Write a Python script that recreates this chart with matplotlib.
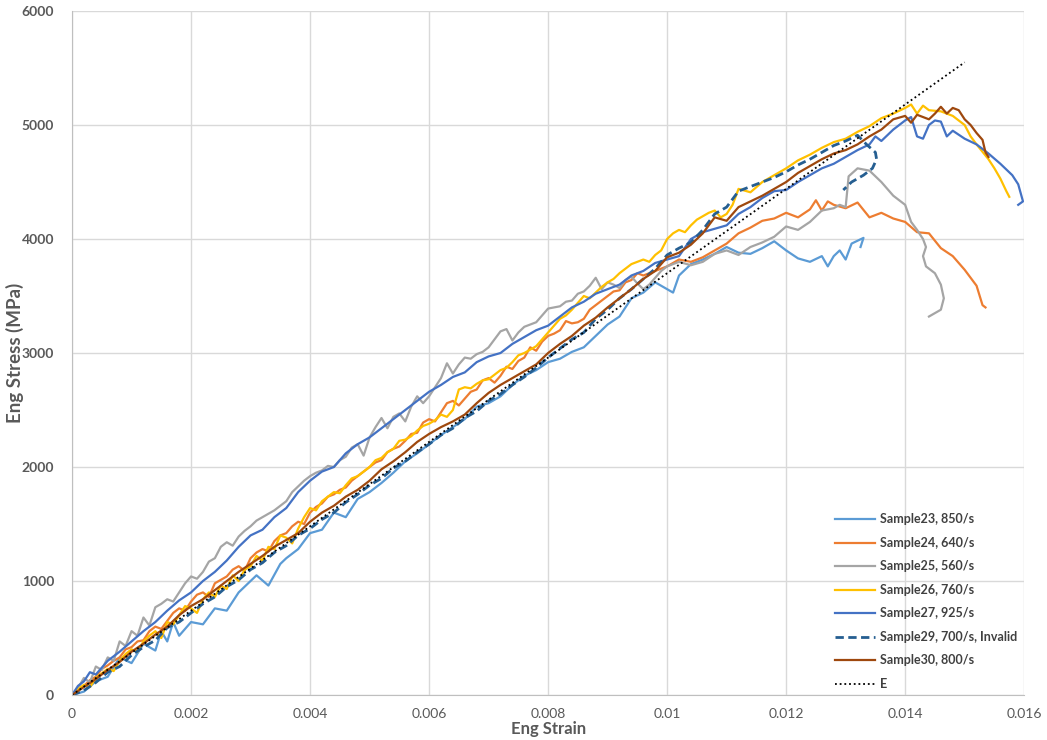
import matplotlib.pyplot as plt

# Datos (deformacion ingenieril, tension ingenieril MPa)
s23_strain = [0, 0.0002, 0.0004, 0.0006, 0.0008, 0.001, 0.0012, 0.0014, 0.0015, 0.0016, 0.0017, 0.0018,
              0.002, 0.0022, 0.0024, 0.0026, 0.0028, 0.003, 0.0031, 0.0033, 0.0035, 0.0036, 0.0038, 0.004,
              0.0042, 0.0044, 0.0046, 0.0048, 0.005, 0.0052, 0.0054, 0.0056, 0.0058, 0.006, 0.0062, 0.0064,
              0.0066, 0.0068, 0.007, 0.0072, 0.0074, 0.0076, 0.0078, 0.008, 0.0082, 0.0084, 0.0086, 0.0088,
              0.009, 0.0092, 0.0094, 0.0096, 0.0098, 0.01, 0.0101, 0.0102, 0.0104, 0.0106, 0.0108, 0.011,
              0.0112, 0.0114, 0.0116, 0.0118, 0.012, 0.0122, 0.0124, 0.0126, 0.0127, 0.0128, 0.0129, 0.013,
              0.0131, 0.0133, 0.01325]
s23_stress = [0, 30, 120, 160, 330, 280, 450, 390, 560, 470, 640, 520,
              640, 620, 760, 740, 900, 1000, 1050, 960, 1150, 1200, 1280, 1420,
              1450, 1600, 1560, 1720, 1780, 1860, 1950, 2050, 2120, 2200, 2280, 2350,
              2420, 2530, 2560, 2620, 2720, 2800, 2850, 2920, 2950, 3010, 3050, 3150,
              3250, 3320, 3480, 3530, 3620, 3560, 3530, 3680, 3780, 3820, 3870, 3930,
              3880, 3870, 3920, 3980, 3900, 3830, 3800, 3850, 3760, 3850, 3900, 3820,
              3960, 4010, 3930]

s24_strain = [0, 0.0001, 0.0002, 0.0003, 0.0004, 0.0005, 0.0006, 0.0007, 0.0008, 0.0009, 0.001, 0.0011,
              0.0012, 0.0013, 0.0014, 0.0015, 0.0016, 0.0017, 0.0018, 0.0019, 0.002, 0.0021, 0.0022, 0.0023,
              0.0024, 0.0025, 0.0026, 0.0027, 0.0028, 0.0029, 0.003, 0.0031, 0.0032, 0.0033, 0.0034, 0.0035,
              0.0036, 0.0037, 0.0038, 0.0039, 0.004, 0.0041, 0.0042, 0.0043, 0.0044, 0.0045, 0.0046, 0.0047,
              0.0048, 0.0049, 0.005, 0.0051, 0.0052, 0.0053, 0.0054, 0.0055, 0.0056, 0.0057, 0.0058, 0.0059,
              0.006, 0.0061, 0.0062, 0.0063, 0.0064, 0.0065, 0.0066, 0.0067, 0.0068, 0.0069, 0.007, 0.0071,
              0.0072, 0.0073, 0.0074, 0.0075, 0.0076, 0.0077, 0.0078, 0.0079, 0.008, 0.0081, 0.0082, 0.0083,
              0.0084, 0.0085, 0.0086, 0.0087, 0.0088, 0.0089, 0.009, 0.0091, 0.0092, 0.0093, 0.0094, 0.0095,
              0.0096, 0.0097, 0.0098, 0.0099, 0.01, 0.0102, 0.0104, 0.0106, 0.0108, 0.011, 0.0112, 0.0114,
              0.0116, 0.0118, 0.012, 0.0122, 0.0124, 0.0125, 0.0126, 0.0127, 0.0128, 0.013, 0.0132, 0.0134,
              0.0136, 0.0138, 0.014, 0.0142, 0.0144, 0.0146, 0.0148, 0.015, 0.0152, 0.0153, 0.01535]
s24_stress = [0, 40, 80, 130, 160, 230, 260, 300, 330, 400, 420, 470,
              480, 560, 600, 580, 650, 720, 760, 740, 820, 880, 900, 860,
              980, 1010, 1040, 1100, 1130, 1090, 1200, 1250, 1280, 1260, 1350, 1400,
              1420, 1480, 1520, 1500, 1600, 1650, 1680, 1740, 1760, 1800, 1820, 1880,
              1920, 1960, 2000, 2040, 2060, 2130, 2160, 2180, 2230, 2290, 2300, 2390,
              2420, 2400, 2480, 2560, 2580, 2540, 2600, 2660, 2680, 2760, 2780, 2740,
              2800, 2880, 2860, 2930, 2960, 3050, 3020, 3100, 3150, 3170, 3200, 3280,
              3260, 3270, 3300, 3380, 3420, 3460, 3500, 3540, 3550, 3620, 3640, 3700,
              3680, 3700, 3720, 3740, 3760, 3820, 3800, 3840, 3900, 3960, 4050, 4100,
              4160, 4180, 4230, 4190, 4260, 4340, 4250, 4330, 4300, 4270, 4320, 4190,
              4230, 4180, 4150, 4060, 4050, 3920, 3850, 3730, 3590, 3420, 3400]

s25_strain = [0, 0.0001, 0.0002, 0.0003, 0.0004, 0.0005, 0.0006, 0.0007, 0.0008, 0.0009, 0.001, 0.0011,
              0.0012, 0.0013, 0.0014, 0.0015, 0.0016, 0.0017, 0.0018, 0.0019, 0.002, 0.0021, 0.0022, 0.0023,
              0.0024, 0.0025, 0.0026, 0.0027, 0.0028, 0.0029, 0.003, 0.0031, 0.0032, 0.0033, 0.0034, 0.0035,
              0.0036, 0.0037, 0.0038, 0.0039, 0.004, 0.0041, 0.0042, 0.0043, 0.0044, 0.0045, 0.0046, 0.0047,
              0.0048, 0.0049, 0.005, 0.0051, 0.0052, 0.0053, 0.0054, 0.0055, 0.0056, 0.0057, 0.0058, 0.0059,
              0.006, 0.0061, 0.0062, 0.0063, 0.0064, 0.0065, 0.0066, 0.0067, 0.0068, 0.0069, 0.007, 0.0071,
              0.0072, 0.0073, 0.0074, 0.0075, 0.0076, 0.0077, 0.0078, 0.0079, 0.008, 0.0081, 0.0082, 0.0083,
              0.0084, 0.0085, 0.0086, 0.0087, 0.0088, 0.0089, 0.009, 0.0091, 0.0092, 0.0093, 0.0094, 0.0095,
              0.0096, 0.0097, 0.0098, 0.0099, 0.01, 0.0102, 0.0104, 0.0106, 0.0108, 0.011, 0.0112, 0.0114,
              0.0116, 0.0118, 0.012, 0.0122, 0.0124, 0.0126, 0.0128, 0.0129, 0.013, 0.01305, 0.0132, 0.0134,
              0.0136, 0.0138, 0.014, 0.0141, 0.0142, 0.0143, 0.01435, 0.0143, 0.01435, 0.0145, 0.0146, 0.01465,
              0.0146, 0.0144]
s25_stress = [0, 60, 150, 110, 250, 220, 330, 300, 470, 430, 560, 520,
              680, 610, 770, 800, 840, 820, 900, 980, 1040, 1020, 1080, 1170,
              1200, 1300, 1340, 1310, 1390, 1440, 1480, 1530, 1560, 1590, 1620, 1660,
              1700, 1780, 1830, 1880, 1920, 1950, 1970, 2010, 2000, 2060, 2090, 2170,
              2200, 2100, 2260, 2350, 2430, 2340, 2440, 2470, 2400, 2530, 2620, 2560,
              2620, 2700, 2780, 2910, 2820, 2900, 2960, 2950, 2990, 3010, 3050, 3120,
              3190, 3210, 3110, 3180, 3230, 3250, 3270, 3330, 3390, 3400, 3410, 3450,
              3460, 3520, 3540, 3590, 3660, 3560, 3620, 3600, 3570, 3640, 3670, 3610,
              3560, 3600, 3660, 3720, 3760, 3800, 3770, 3800, 3870, 3900, 3860, 3930,
              3970, 4020, 4110, 4080, 4150, 4250, 4270, 4300, 4280, 4550, 4620, 4600,
              4500, 4380, 4300, 4150, 4080, 4000, 3930, 3850, 3760, 3700, 3600, 3480,
              3380, 3320]

s26_strain = [0, 0.0001, 0.0002, 0.0003, 0.0004, 0.0005, 0.0006, 0.0007, 0.0008, 0.0009, 0.001, 0.0011,
              0.0012, 0.0013, 0.0014, 0.0015, 0.0016, 0.0017, 0.0018, 0.0019, 0.002, 0.0021, 0.0022, 0.0023,
              0.0024, 0.0025, 0.0026, 0.0027, 0.0028, 0.0029, 0.003, 0.0031, 0.0032, 0.0033, 0.0034, 0.0035,
              0.0036, 0.0037, 0.0038, 0.0039, 0.004, 0.0041, 0.0042, 0.0043, 0.0044, 0.0045, 0.0046, 0.0047,
              0.0048, 0.0049, 0.005, 0.0051, 0.0052, 0.0053, 0.0054, 0.0055, 0.0056, 0.0057, 0.0058, 0.0059,
              0.006, 0.0061, 0.0062, 0.0063, 0.0064, 0.0065, 0.0066, 0.0067, 0.0068, 0.0069, 0.007, 0.0071,
              0.0072, 0.0073, 0.0074, 0.0075, 0.0076, 0.0077, 0.0078, 0.0079, 0.008, 0.0081, 0.0082, 0.0083,
              0.0084, 0.0085, 0.0086, 0.0087, 0.0088, 0.0089, 0.009, 0.0091, 0.0092, 0.0093, 0.0094, 0.0095,
              0.0096, 0.0097, 0.0098, 0.0099, 0.01, 0.0101, 0.0102, 0.0103, 0.0104, 0.0105, 0.0106, 0.0107,
              0.0108, 0.0109, 0.011, 0.0111, 0.0112, 0.0114, 0.0116, 0.0118, 0.012, 0.0122, 0.0124, 0.0126,
              0.0128, 0.013, 0.0132, 0.0134, 0.0136, 0.0138, 0.014, 0.0141, 0.0142, 0.0143, 0.0144, 0.0146,
              0.0148, 0.015, 0.0151, 0.0152, 0.0154, 0.0155, 0.0156, 0.0157, 0.01575]
s26_stress = [0, 50, 90, 70, 150, 190, 230, 210, 300, 360, 400, 380,
              470, 520, 560, 500, 640, 620, 700, 780, 760, 720, 840, 900,
              860, 960, 930, 1050, 1000, 1100, 1130, 1220, 1180, 1300, 1280, 1400,
              1380, 1330, 1460, 1560, 1640, 1620, 1700, 1740, 1780, 1770, 1840, 1900,
              1920, 1960, 2000, 2060, 2080, 2130, 2160, 2230, 2240, 2270, 2320, 2360,
              2380, 2410, 2460, 2440, 2500, 2680, 2700, 2690, 2730, 2760, 2770, 2810,
              2850, 2870, 2920, 2980, 3000, 3030, 3060, 3120, 3180, 3240, 3300, 3330,
              3380, 3440, 3500, 3480, 3530, 3580, 3620, 3650, 3700, 3740, 3780, 3800,
              3820, 3800, 3860, 3900, 4000, 4050, 4080, 4060, 4120, 4170, 4200, 4230,
              4250, 4190, 4220, 4300, 4440, 4410, 4500, 4560, 4620, 4690, 4740, 4800,
              4850, 4880, 4940, 4990, 5060, 5100, 5150, 5180, 5100, 5170, 5130, 5120,
              5080, 5000, 4900, 4830, 4700, 4620, 4530, 4420, 4370]

s27_strain = [0, 0.0001, 0.0002, 0.0003, 0.0004, 0.0006, 0.0008, 0.001, 0.0012, 0.0014, 0.0016, 0.0018,
              0.002, 0.0022, 0.0024, 0.0026, 0.0028, 0.003, 0.0032, 0.0034, 0.0036, 0.0038, 0.004, 0.0042,
              0.0044, 0.0046, 0.0048, 0.005, 0.0052, 0.0054, 0.0056, 0.0058, 0.006, 0.0062, 0.0064, 0.0066,
              0.0068, 0.007, 0.0072, 0.0074, 0.0076, 0.0078, 0.008, 0.0082, 0.0084, 0.0086, 0.0088, 0.009,
              0.0092, 0.0094, 0.0096, 0.0098, 0.01, 0.0102, 0.0104, 0.0106, 0.0108, 0.011, 0.0112, 0.0114,
              0.0116, 0.0118, 0.012, 0.0122, 0.0124, 0.0126, 0.0128, 0.013, 0.0132, 0.0134, 0.0135, 0.0136,
              0.0138, 0.014, 0.0141, 0.0142, 0.0143, 0.0144, 0.0145, 0.0146, 0.0147, 0.0148, 0.015, 0.0152,
              0.0154, 0.0156, 0.0158, 0.0159, 0.01598, 0.0159]
s27_stress = [0, 80, 120, 200, 180, 300, 380, 470, 560, 640, 740, 830,
              900, 1000, 1080, 1180, 1300, 1400, 1450, 1560, 1640, 1780, 1880, 1960,
              2000, 2120, 2200, 2260, 2340, 2420, 2500, 2580, 2660, 2720, 2790, 2830,
              2920, 2970, 3000, 3080, 3140, 3200, 3240, 3320, 3400, 3450, 3520, 3560,
              3600, 3680, 3720, 3790, 3820, 3850, 4000, 4060, 4090, 4120, 4220, 4280,
              4360, 4420, 4430, 4500, 4560, 4620, 4660, 4720, 4780, 4830, 4900, 4860,
              4960, 5040, 5070, 4900, 4880, 5000, 5040, 5030, 4900, 4950, 4880, 4830,
              4750, 4660, 4560, 4480, 4330, 4300]

s29_strain = [0, 0.0002, 0.0004, 0.0006, 0.0008, 0.001, 0.0012, 0.0014, 0.0016, 0.0018, 0.002, 0.0022,
              0.0024, 0.0026, 0.0028, 0.003, 0.0032, 0.0034, 0.0036, 0.0038, 0.004, 0.0042, 0.0044, 0.0046,
              0.0048, 0.005, 0.0052, 0.0054, 0.0056, 0.0058, 0.006, 0.0062, 0.0064, 0.0066, 0.0068, 0.007,
              0.0072, 0.0074, 0.0076, 0.0078, 0.008, 0.0082, 0.0084, 0.0086, 0.0088, 0.009, 0.0092, 0.0094,
              0.0096, 0.0098, 0.01, 0.0102, 0.0104, 0.0106, 0.0108, 0.011, 0.0112, 0.0114, 0.0116, 0.0118,
              0.012, 0.0122, 0.0124, 0.0126, 0.0128, 0.013, 0.0132, 0.01335, 0.0135, 0.01352, 0.01345, 0.0133,
              0.0131, 0.01296]
s29_stress = [0, 40, 110, 200, 250, 350, 420, 480, 590, 640, 720, 800,
              860, 950, 1010, 1100, 1160, 1250, 1310, 1400, 1460, 1540, 1600, 1690,
              1760, 1840, 1900, 1990, 2050, 2130, 2200, 2280, 2340, 2430, 2490, 2580,
              2640, 2720, 2790, 2870, 2960, 3040, 3120, 3180, 3300, 3380, 3480, 3560,
              3650, 3740, 3860, 3920, 3970, 4080, 4220, 4280, 4420, 4460, 4500, 4540,
              4590, 4650, 4700, 4760, 4820, 4860, 4910, 4830, 4760, 4700, 4620, 4560,
              4500, 4430]

s30_strain = [0, 0.0002, 0.0004, 0.0006, 0.0008, 0.001, 0.0012, 0.0014, 0.0016, 0.0018, 0.002, 0.0022,
              0.0024, 0.0026, 0.0028, 0.003, 0.0032, 0.0034, 0.0036, 0.0038, 0.004, 0.0042, 0.0044, 0.0046,
              0.0048, 0.005, 0.0052, 0.0054, 0.0056, 0.0058, 0.006, 0.0062, 0.0064, 0.0066, 0.0068, 0.007,
              0.0072, 0.0074, 0.0076, 0.0078, 0.008, 0.0082, 0.0084, 0.0086, 0.0088, 0.009, 0.0092, 0.0094,
              0.0096, 0.0098, 0.01, 0.0102, 0.0104, 0.0106, 0.0108, 0.011, 0.0112, 0.0114, 0.0116, 0.0118,
              0.012, 0.0122, 0.0124, 0.0126, 0.0128, 0.013, 0.0132, 0.0134, 0.0136, 0.0138, 0.014, 0.0141,
              0.0142, 0.0144, 0.0145, 0.0146, 0.0147, 0.0148, 0.0149, 0.015, 0.0151, 0.0152, 0.0153, 0.01535,
              0.0154]
s30_stress = [0, 70, 140, 220, 290, 380, 450, 530, 600, 700, 780, 840,
              920, 1000, 1080, 1150, 1220, 1300, 1360, 1420, 1520, 1600, 1660, 1740,
              1800, 1880, 1980, 2050, 2130, 2220, 2290, 2350, 2400, 2460, 2560, 2650,
              2720, 2780, 2840, 2900, 3000, 3080, 3150, 3240, 3310, 3400, 3480, 3560,
              3650, 3720, 3840, 3880, 3950, 4050, 4190, 4160, 4280, 4330, 4380, 4440,
              4500, 4580, 4640, 4700, 4750, 4780, 4830, 4900, 4960, 5050, 5080, 5020,
              5090, 5050, 5100, 5160, 5100, 5150, 5130, 5050, 5000, 4930, 4870, 4760,
              4720]

e_strain = [0, 0.015]
e_stress = [0, 5550]

series = [
    ("Sample23, 850/s", s23_strain, s23_stress, "#5B9BD5", "-"),
    ("Sample24, 640/s", s24_strain, s24_stress, "#ED7D31", "-"),
    ("Sample25, 560/s", s25_strain, s25_stress, "#A5A5A5", "-"),
    ("Sample26, 760/s", s26_strain, s26_stress, "#FFC000", "-"),
    ("Sample27, 925/s", s27_strain, s27_stress, "#4472C4", "-"),
    ("Sample29, 700/s, Invalid", s29_strain, s29_stress, "#255E91", (0, (3, 1.6))),
    ("Sample30, 800/s", s30_strain, s30_stress, "#9E480E", "-"),
]

plt.rcParams['font.family'] = ['Lato', 'DejaVu Sans']

fig = plt.figure(figsize=(10.47, 7.40), dpi=100)
ax = fig.add_axes([0.0688, 0.0608, 0.9094, 0.9243])

for nombre, x, y, color, estilo in series:
    ax.plot(x, y, color=color, linestyle=estilo, linewidth=1.6 if estilo == "-" else 2.0, label=nombre)
ax.plot(e_strain, e_stress, color="black", linestyle=(0, (1, 1.6)), linewidth=1.3, label="E")

ax.set_xlim(0, 0.016)
ax.set_ylim(0, 6000)
ax.set_xticks([0, 0.002, 0.004, 0.006, 0.008, 0.01, 0.012, 0.014, 0.016])
ax.set_xticklabels(["0", "0.002", "0.004", "0.006", "0.008", "0.01", "0.012", "0.014", "0.016"])
ax.set_yticks(range(0, 6001, 1000))

ax.grid(True, color="#D9D9D9", linewidth=1.0)
ax.set_axisbelow(True)
for lado in ["top", "right"]:
    ax.spines[lado].set_visible(False)
for lado in ["bottom", "left"]:
    ax.spines[lado].set_color("#BFBFBF")
ax.tick_params(length=0, labelsize=10, colors="#595959")
ax.tick_params(axis="y", pad=13)
ax.tick_params(axis="x", pad=9)
for t in ax.get_yticklabels():
    t.set_fontweight("bold")

ax.set_xlabel("Eng Strain", fontsize=12, fontweight="bold", color="#595959")
ax.set_ylabel("Eng Stress (MPa)", fontsize=13.5, fontweight="bold", color="#595959")
ax.xaxis.set_label_coords(0.5, -0.038)
ax.yaxis.set_label_coords(-0.05, 0.5)

leg = ax.legend(loc="upper left", bbox_to_anchor=(0.79, 0.282), frameon=False, fontsize=9,
                handlelength=3.2, labelspacing=0.92, handletextpad=0.4)
for t in leg.get_texts():
    t.set_color("#404040")
    t.set_fontweight("bold")

plt.savefig("out.png", dpi=100)
